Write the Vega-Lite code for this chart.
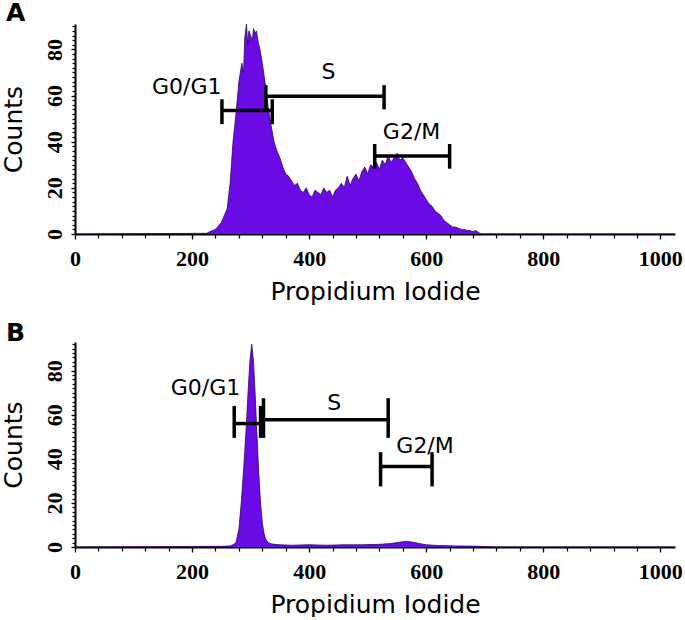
{
  "$schema": "https://vega.github.io/schema/vega-lite/v6.json",
  "padding": {"left": 0, "top": 1, "right": 2, "bottom": 0},
  "background": "white",
  "spacing": 17,
  "config": {
    "view": {"stroke": null},
    "axis": {
      "grid": false, "domainColor": "black", "domainWidth": 2,
      "tickColor": "black", "tickWidth": 1.2, "tickSize": 4,
      "labelColor": "black", "labelFont": "Liberation Serif", "labelFontWeight": "bold", "labelFontSize": 22,
      "titleFont": "DejaVu Sans", "titleFontSize": 25, "titleFontWeight": "normal", "titleColor": "black",
      "labelOverlap": false, "labelFlush": false
    },
    "axisX": {"labelPadding": 9, "titlePadding": 10},
    "axisY": {"labelAngle": 270, "labelAlign": "center", "labelBaseline": "alphabetic", "labelPadding": 10, "titlePadding": 17},
    "title": {"font": "DejaVu Sans", "fontSize": 25, "fontWeight": "bold", "anchor": "start", "frame": "bounds", "baseline": "bottom", "offset": -5, "dx": 5, "color": "black"}
  },
  "datasets": {
    "histA": [
      {"pi": 0, "count": 0}, {"pi": 225, "count": 0.3}, {"pi": 230, "count": 1}, {"pi": 235, "count": 1.5}, {"pi": 240, "count": 2},
      {"pi": 245, "count": 3.5}, {"pi": 250, "count": 5}, {"pi": 255, "count": 8}, {"pi": 260, "count": 11}, {"pi": 265, "count": 22},
      {"pi": 270, "count": 40}, {"pi": 275, "count": 52}, {"pi": 280, "count": 66}, {"pi": 285, "count": 74}, {"pi": 288, "count": 70}, {"pi": 290, "count": 85},
      {"pi": 293, "count": 91}, {"pi": 295, "count": 82}, {"pi": 297, "count": 88}, {"pi": 300, "count": 86}, {"pi": 303, "count": 84},
      {"pi": 305, "count": 89}, {"pi": 308, "count": 87}, {"pi": 310, "count": 88}, {"pi": 313, "count": 83}, {"pi": 316, "count": 80},
      {"pi": 320, "count": 74}, {"pi": 325, "count": 65}, {"pi": 330, "count": 55}, {"pi": 335, "count": 47}, {"pi": 340, "count": 40},
      {"pi": 345, "count": 36}, {"pi": 350, "count": 33}, {"pi": 355, "count": 29}, {"pi": 360, "count": 26}, {"pi": 365, "count": 25},
      {"pi": 370, "count": 23}, {"pi": 375, "count": 21}, {"pi": 380, "count": 22}, {"pi": 385, "count": 19}, {"pi": 390, "count": 18},
      {"pi": 395, "count": 20}, {"pi": 400, "count": 17}, {"pi": 405, "count": 16}, {"pi": 410, "count": 19}, {"pi": 415, "count": 18},
      {"pi": 420, "count": 17}, {"pi": 425, "count": 20}, {"pi": 430, "count": 18}, {"pi": 435, "count": 19}, {"pi": 440, "count": 16},
      {"pi": 445, "count": 19}, {"pi": 450, "count": 20}, {"pi": 455, "count": 22}, {"pi": 460, "count": 20}, {"pi": 465, "count": 25},
      {"pi": 470, "count": 21}, {"pi": 475, "count": 24}, {"pi": 480, "count": 26}, {"pi": 485, "count": 23}, {"pi": 490, "count": 27},
      {"pi": 495, "count": 29}, {"pi": 500, "count": 26}, {"pi": 505, "count": 30}, {"pi": 510, "count": 29}, {"pi": 515, "count": 31},
      {"pi": 520, "count": 28}, {"pi": 525, "count": 32}, {"pi": 530, "count": 30}, {"pi": 535, "count": 34}, {"pi": 540, "count": 31},
      {"pi": 545, "count": 33}, {"pi": 550, "count": 35}, {"pi": 555, "count": 32}, {"pi": 560, "count": 33}, {"pi": 565, "count": 31},
      {"pi": 570, "count": 29}, {"pi": 575, "count": 27}, {"pi": 580, "count": 24}, {"pi": 585, "count": 22}, {"pi": 590, "count": 19},
      {"pi": 595, "count": 17}, {"pi": 600, "count": 15}, {"pi": 605, "count": 13}, {"pi": 610, "count": 12}, {"pi": 615, "count": 10},
      {"pi": 620, "count": 9}, {"pi": 625, "count": 8}, {"pi": 630, "count": 6}, {"pi": 635, "count": 5}, {"pi": 640, "count": 4},
      {"pi": 645, "count": 3}, {"pi": 650, "count": 3}, {"pi": 655, "count": 2.5}, {"pi": 660, "count": 2}, {"pi": 665, "count": 2},
      {"pi": 670, "count": 1.5}, {"pi": 675, "count": 1.5}, {"pi": 680, "count": 1}, {"pi": 685, "count": 1.5}, {"pi": 690, "count": 0.5},
      {"pi": 695, "count": 0}, {"pi": 1025, "count": 0}
    ],
    "histB": [
      {"pi": 0, "count": 0}, {"pi": 250, "count": 0.3}, {"pi": 265, "count": 0.5}, {"pi": 270, "count": 1}, {"pi": 275, "count": 2},
      {"pi": 280, "count": 8}, {"pi": 284, "count": 20}, {"pi": 288, "count": 35}, {"pi": 292, "count": 52}, {"pi": 296, "count": 72},
      {"pi": 299, "count": 85}, {"pi": 302, "count": 92}, {"pi": 305, "count": 84}, {"pi": 308, "count": 68}, {"pi": 311, "count": 50},
      {"pi": 314, "count": 33}, {"pi": 317, "count": 20}, {"pi": 320, "count": 11}, {"pi": 323, "count": 6}, {"pi": 326, "count": 3.5},
      {"pi": 330, "count": 2}, {"pi": 335, "count": 1.5}, {"pi": 340, "count": 1.2}, {"pi": 350, "count": 1}, {"pi": 370, "count": 0.8},
      {"pi": 400, "count": 1}, {"pi": 430, "count": 0.8}, {"pi": 460, "count": 1}, {"pi": 490, "count": 1}, {"pi": 520, "count": 1.2},
      {"pi": 540, "count": 1.6}, {"pi": 555, "count": 2.2}, {"pi": 565, "count": 2.6}, {"pi": 575, "count": 2.3}, {"pi": 590, "count": 1.5},
      {"pi": 600, "count": 1}, {"pi": 620, "count": 0.7}, {"pi": 650, "count": 0.5}, {"pi": 680, "count": 0.4}, {"pi": 700, "count": 0.2},
      {"pi": 720, "count": 0}, {"pi": 1025, "count": 0}
    ],
    "gates": [
      {"panel": "A", "gate": "G0/G1", "x1": 251, "x2": 337, "y": 53.5, "ylo": 47.6, "yhi": 58.4, "lx": 191, "ly": 60.6},
      {"panel": "A", "gate": "S", "x1": 326, "x2": 528, "y": 59.7, "ylo": 54, "yhi": 64.5, "lx": 433, "ly": 67},
      {"panel": "A", "gate": "G2/M", "x1": 512, "x2": 640, "y": 33.8, "ylo": 28.3, "yhi": 39, "lx": 575, "ly": 41},
      {"panel": "B", "gate": "G0/G1", "x1": 272, "x2": 317, "y": 56, "ylo": 49.5, "yhi": 64, "lx": 223, "ly": 69},
      {"panel": "B", "gate": "S", "x1": 322, "x2": 535, "y": 57.7, "ylo": 49.5, "yhi": 67.5, "lx": 443, "ly": 62},
      {"panel": "B", "gate": "G2/M", "x1": 522, "x2": 610, "y": 36.5, "ylo": 27.5, "yhi": 43, "lx": 598, "ly": 42.5}
    ]
  },
  "vconcat": [
    {
      "title": {"text": "A"},
      "width": 600,
      "height": 210,
      "resolve": {"axis": {"x": "independent", "y": "independent"}},
      "layer": [
        {
          "data": {"name": "histA"},
          "mark": {"type": "area", "color": "#6a0ae4", "opacity": 1, "line": {"color": "#2b0a55", "strokeWidth": 0.8}},
          "encoding": {
            "x": {"field": "pi", "type": "quantitative", "scale": {"domain": [0, 1025], "nice": false},
              "axis": {"title": "Propidium Iodide", "format": "d", "orient": "bottom", "tickSize": 5,
                "values": [0, 200, 400, 600, 800, 1000]}},
            "y": {"field": "count", "type": "quantitative", "scale": {"domain": [0, 91], "nice": false},
              "axis": {"title": "Counts", "orient": "left", "values": [0, 20, 40, 60, 80], "tickSize": 4}}
          }
        },
        {
          "data": {"name": "histA"},
          "mark": {"type": "point", "opacity": 0},
          "encoding": {
            "x": {"field": "pi", "type": "quantitative",
              "axis": {"orient": "bottom", "labels": false, "title": null, "domain": false, "tickSize": 4,
                "values": [0,40,80,120,160,200,240,280,320,360,400,440,480,520,560,600,640,680,720,760,800,840,880,920,960,1000]}},
            "y": {"field": "count", "type": "quantitative",
              "axis": {"orient": "left", "labels": false, "title": null, "domain": false, "tickSize": 3,
                "values": [0,2,4,6,8,10,12,14,16,18,20,22,24,26,28,30,32,34,36,38,40,42,44,46,48,50,52,54,56,58,60,62,64,66,68,70,72,74,76,78,80,82,84,86,88,90]}}
          }
        },
        {
          "data": {"name": "gates"},
          "transform": [{"filter": "datum.panel === 'A'"}],
          "layer": [
            {"mark": {"type": "rule", "color": "black", "strokeWidth": 3.5},
             "encoding": {"x": {"field": "x1", "type": "quantitative", "axis": null}, "x2": {"field": "x2"}, "y": {"field": "y", "type": "quantitative", "axis": null}}},
            {"mark": {"type": "rule", "color": "black", "strokeWidth": 3.5},
             "encoding": {"x": {"field": "x1", "type": "quantitative", "axis": null}, "y": {"field": "ylo", "type": "quantitative", "axis": null}, "y2": {"field": "yhi"}}},
            {"mark": {"type": "rule", "color": "black", "strokeWidth": 3.5},
             "encoding": {"x": {"field": "x2", "type": "quantitative", "axis": null}, "y": {"field": "ylo", "type": "quantitative", "axis": null}, "y2": {"field": "yhi"}}},
            {"mark": {"type": "text", "font": "DejaVu Sans", "fontSize": 22, "align": "center", "baseline": "alphabetic", "color": "black"},
             "encoding": {"x": {"field": "lx", "type": "quantitative", "axis": null}, "y": {"field": "ly", "type": "quantitative", "axis": null}, "text": {"field": "gate"}}}
          ]
        }
      ]
    },
    {
      "title": {"text": "B"},
      "width": 600,
      "height": 205,
      "resolve": {"axis": {"x": "independent", "y": "independent"}},
      "layer": [
        {
          "data": {"name": "histB"},
          "mark": {"type": "area", "color": "#6a0ae4", "opacity": 1, "line": {"color": "#2b0a55", "strokeWidth": 0.8}},
          "encoding": {
            "x": {"field": "pi", "type": "quantitative", "scale": {"domain": [0, 1025], "nice": false},
              "axis": {"title": "Propidium Iodide", "format": "d", "orient": "bottom", "tickSize": 5,
                "values": [0, 200, 400, 600, 800, 1000]}},
            "y": {"field": "count", "type": "quantitative", "scale": {"domain": [0, 93], "nice": false},
              "axis": {"title": "Counts", "orient": "left", "values": [0, 20, 40, 60, 80], "tickSize": 4}}
          }
        },
        {
          "data": {"name": "histB"},
          "mark": {"type": "point", "opacity": 0},
          "encoding": {
            "x": {"field": "pi", "type": "quantitative",
              "axis": {"orient": "bottom", "labels": false, "title": null, "domain": false, "tickSize": 4,
                "values": [0,40,80,120,160,200,240,280,320,360,400,440,480,520,560,600,640,680,720,760,800,840,880,920,960,1000]}},
            "y": {"field": "count", "type": "quantitative",
              "axis": {"orient": "left", "labels": false, "title": null, "domain": false, "tickSize": 3,
                "values": [0,2,4,6,8,10,12,14,16,18,20,22,24,26,28,30,32,34,36,38,40,42,44,46,48,50,52,54,56,58,60,62,64,66,68,70,72,74,76,78,80,82,84,86,88,90,92]}}
          }
        },
        {
          "data": {"name": "gates"},
          "transform": [{"filter": "datum.panel === 'B'"}],
          "layer": [
            {"mark": {"type": "rule", "color": "black", "strokeWidth": 3.5},
             "encoding": {"x": {"field": "x1", "type": "quantitative", "axis": null}, "x2": {"field": "x2"}, "y": {"field": "y", "type": "quantitative", "axis": null}}},
            {"mark": {"type": "rule", "color": "black", "strokeWidth": 3.5},
             "encoding": {"x": {"field": "x1", "type": "quantitative", "axis": null}, "y": {"field": "ylo", "type": "quantitative", "axis": null}, "y2": {"field": "yhi"}}},
            {"mark": {"type": "rule", "color": "black", "strokeWidth": 3.5},
             "encoding": {"x": {"field": "x2", "type": "quantitative", "axis": null}, "y": {"field": "ylo", "type": "quantitative", "axis": null}, "y2": {"field": "yhi"}}},
            {"mark": {"type": "text", "font": "DejaVu Sans", "fontSize": 22, "align": "center", "baseline": "alphabetic", "color": "black"},
             "encoding": {"x": {"field": "lx", "type": "quantitative", "axis": null}, "y": {"field": "ly", "type": "quantitative", "axis": null}, "text": {"field": "gate"}}}
          ]
        }
      ]
    }
  ]
}
